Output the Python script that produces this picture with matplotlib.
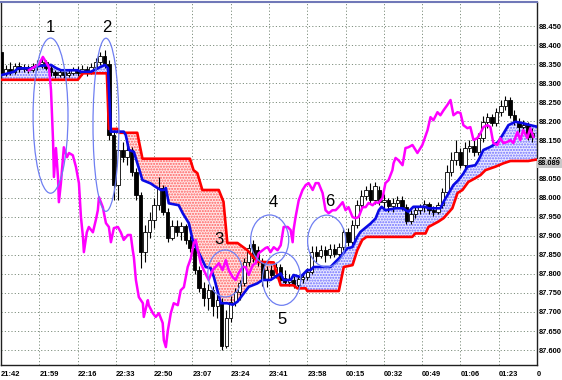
import numpy as np
import matplotlib
matplotlib.use("Agg")
import matplotlib.pyplot as plt
from matplotlib.patches import Ellipse

# time axis (minutes after 21:42)
tick_minutes = [0, 17, 34, 51, 68, 85, 102, 119, 136, 153, 170, 187, 204, 221, 238]
tick_labels = ["21:42", "21:59", "22:16", "22:33", "22:50", "23:07", "23:24", "23:41",
               "23:58", "00:15", "00:32", "00:49", "01:06", "01:23", "0"]
price_ticks = [87.60, 87.65, 87.70, 87.75, 87.80, 87.85, 87.90, 87.95, 88.00,
               88.05, 88.10, 88.15, 88.20, 88.25, 88.30, 88.35, 88.40, 88.45]
last_price = 88.089
bar_minutes = 2.0

# 2-minute candles
opens = [88.382, 88.327, 88.337, 88.329, 88.345, 88.337, 88.342, 88.334, 88.345, 88.350,
         88.355, 88.340, 88.329, 88.321, 88.329, 88.321, 88.327, 88.334, 88.327, 88.337,
         88.329, 88.342, 88.355, 88.371, 88.350, 88.164, 88.033, 88.125, 88.106, 88.125,
         88.067, 88.007, 87.857, 87.909, 87.941, 87.980, 88.025, 87.962, 87.894, 87.925,
         87.909, 87.925, 87.889, 87.868, 87.810, 87.763, 87.736, 87.757, 87.715, 87.726,
         87.610, 87.684, 87.726, 87.752, 87.776, 87.831, 87.878, 87.862, 87.831, 87.784,
         87.810, 87.797, 87.818, 87.789, 87.778, 87.784, 87.770, 87.786, 87.791, 87.805,
         87.857, 87.847, 87.862, 87.849, 87.865, 87.852, 87.870, 87.909, 87.883, 87.928,
         87.980, 88.004, 88.020, 87.993, 88.020, 87.988, 87.993, 87.978, 87.986, 87.993,
         87.975, 87.938, 87.957, 87.967, 87.975, 87.983, 87.967, 87.962, 87.980, 88.014,
         88.067, 88.098, 88.119, 88.085, 88.130, 88.135, 88.119, 88.156, 88.198, 88.211,
         88.195, 88.224, 88.240, 88.256, 88.216, 88.198, 88.185, 88.190, 88.159]
highs = [88.387, 88.348, 88.355, 88.353, 88.355, 88.350, 88.348, 88.353, 88.361, 88.369,
         88.361, 88.348, 88.334, 88.337, 88.334, 88.334, 88.342, 88.345, 88.348, 88.345,
         88.353, 88.366, 88.382, 88.387, 88.361, 88.177, 88.151, 88.146, 88.140, 88.132,
         88.077, 88.014, 87.928, 87.962, 87.999, 88.054, 88.033, 87.972, 87.941, 87.941,
         87.936, 87.930, 87.899, 87.878, 87.820, 87.778, 87.773, 87.768, 87.747, 87.736,
         87.705, 87.742, 87.763, 87.784, 87.841, 87.878, 87.889, 87.873, 87.841, 87.820,
         87.823, 87.828, 87.826, 87.810, 87.799, 87.794, 87.794, 87.802, 87.815, 87.873,
         87.873, 87.875, 87.873, 87.878, 87.878, 87.881, 87.920, 87.920, 87.941, 87.993,
         88.020, 88.030, 88.038, 88.041, 88.030, 88.009, 87.999, 87.999, 88.004, 88.004,
         87.983, 87.967, 87.978, 87.983, 87.993, 87.988, 87.978, 87.988, 88.025, 88.085,
         88.119, 88.151, 88.130, 88.146, 88.151, 88.151, 88.169, 88.214, 88.222, 88.219,
         88.235, 88.256, 88.266, 88.264, 88.230, 88.209, 88.203, 88.198, 88.182]
lows = [88.313, 88.319, 88.321, 88.324, 88.329, 88.329, 88.327, 88.329, 88.334, 88.340,
        88.334, 88.319, 88.313, 88.316, 88.313, 88.316, 88.321, 88.319, 88.321, 88.319,
        88.324, 88.334, 88.348, 88.340, 88.151, 87.993, 87.993, 88.093, 88.085, 88.056,
        87.993, 87.815, 87.831, 87.894, 87.920, 87.967, 87.954, 87.883, 87.889, 87.899,
        87.889, 87.878, 87.857, 87.799, 87.752, 87.715, 87.705, 87.689, 87.684, 87.600,
        87.605, 87.673, 87.715, 87.731, 87.768, 87.820, 87.831, 87.820, 87.768, 87.765,
        87.786, 87.789, 87.773, 87.770, 87.768, 87.763, 87.765, 87.776, 87.784, 87.799,
        87.831, 87.841, 87.831, 87.841, 87.844, 87.841, 87.862, 87.873, 87.873, 87.920,
        87.967, 87.993, 87.986, 87.983, 87.980, 87.967, 87.962, 87.962, 87.972, 87.967,
        87.930, 87.930, 87.946, 87.957, 87.962, 87.957, 87.951, 87.957, 87.972, 88.007,
        88.056, 88.085, 88.077, 88.077, 88.119, 88.109, 88.111, 88.146, 88.182, 88.188,
        88.188, 88.214, 88.230, 88.209, 88.190, 88.172, 88.172, 88.151, 88.146]
closes = [88.327, 88.337, 88.329, 88.345, 88.337, 88.342, 88.334, 88.345, 88.350, 88.355,
          88.340, 88.329, 88.321, 88.329, 88.321, 88.327, 88.334, 88.327, 88.337, 88.329,
          88.342, 88.355, 88.371, 88.350, 88.164, 88.033, 88.125, 88.106, 88.125, 88.067,
          88.007, 87.857, 87.909, 87.941, 87.980, 88.025, 87.962, 87.894, 87.925, 87.909,
          87.925, 87.889, 87.868, 87.810, 87.763, 87.736, 87.757, 87.715, 87.731, 87.610,
          87.684, 87.726, 87.752, 87.776, 87.831, 87.868, 87.841, 87.831, 87.784, 87.810,
          87.797, 87.818, 87.784, 87.778, 87.784, 87.770, 87.786, 87.791, 87.805, 87.857,
          87.847, 87.862, 87.849, 87.865, 87.852, 87.870, 87.909, 87.883, 87.928, 87.980,
          88.004, 88.020, 87.993, 88.030, 87.988, 87.993, 87.978, 87.986, 87.993, 87.975,
          87.938, 87.957, 87.967, 87.975, 87.983, 87.967, 87.962, 87.980, 88.014, 88.067,
          88.098, 88.119, 88.085, 88.130, 88.135, 88.119, 88.156, 88.198, 88.211, 88.195,
          88.224, 88.240, 88.256, 88.216, 88.198, 88.185, 88.190, 88.159, 88.169]

# red line (span B)
red_t = [0, 34.1, 36.4, 47.0, 47.9, 51.9, 52.3, 60.5, 62.8, 83.9,
         85.5, 87.2, 89.4, 96.7, 98.8, 100.5, 105.0, 106.4, 109.4, 113.8,
         121.1, 122.0, 124.2, 129.9, 131.6, 135.3, 136.0, 150.0, 152.2, 156.1,
         158.2, 160.4, 162.3, 182.6, 184.0, 188.5, 189.8, 194.2, 196.5, 200.4,
         202.7, 204.9, 207.5, 210.6, 212.9, 215.1, 219.5, 223.1, 226.2, 234.1, 238.0]
red_v = [88.309, 88.309, 88.326, 88.326, 88.180, 88.180, 88.170, 88.170, 88.102, 88.102,
         88.072, 88.064, 88.020, 88.020, 87.989, 87.881, 87.881, 87.875, 87.862, 87.832,
         87.830, 87.810, 87.770, 87.770, 87.762, 87.762, 87.755, 87.755, 87.818, 87.823,
         87.862, 87.889, 87.897, 87.897, 87.906, 87.906, 87.923, 87.937, 87.946, 87.972,
         88.012, 88.020, 88.041, 88.051, 88.059, 88.072, 88.081, 88.090, 88.096, 88.096, 88.100]

# blue line (span A)
blue_t = [0, 5.8, 7.5, 13.3, 16.4, 22.2, 24.4, 26.6, 34.1, 35.5,
          39.9, 41.2, 44.3, 46.1, 47.5, 48.8, 54.5, 55.4, 56.8, 59.0,
          62.8, 66.5, 68.7, 71.0, 72.3, 73.2, 74.5, 78.9, 80.7, 83.4,
          85.1, 86.5, 88.7, 90.9, 93.1, 94.5, 97.6, 100.5, 102.9, 105.0,
          107.8, 110.0, 113.8, 116.1, 119.7, 124.2, 125.5, 128.6, 129.9, 133.0,
          136.0, 137.5, 138.8, 146.3, 148.6, 150.8, 153.7, 156.0, 158.2, 159.6,
          164.1, 166.3, 167.8, 169.0, 170.7, 175.2, 178.3, 180.9, 183.1, 188.5,
          189.8, 195.1, 196.5, 198.7, 200.9, 203.1, 205.3, 207.1, 210.6, 212.0,
          214.2, 217.3, 220.8, 223.1, 225.3, 228.4, 231.9, 235.0, 238.0]
blue_v = [88.321, 88.330, 88.339, 88.339, 88.345, 88.348, 88.340, 88.334, 88.334, 88.330,
          88.330, 88.334, 88.343, 88.348, 88.340, 88.173, 88.173, 88.164, 88.125, 88.120,
          88.046, 88.037, 88.028, 88.020, 88.020, 88.025, 87.985, 87.980, 87.959, 87.933,
          87.889, 87.871, 87.845, 87.818, 87.815, 87.792, 87.723, 87.723, 87.719, 87.727,
          87.749, 87.766, 87.775, 87.784, 87.784, 87.801, 87.784, 87.784, 87.797, 87.792,
          87.810, 87.810, 87.818, 87.818, 87.832, 87.845, 87.867, 87.870, 87.897, 87.910,
          87.932, 87.945, 87.967, 87.976, 87.967, 87.972, 87.972, 87.963, 87.976, 87.976,
          87.972, 87.972, 87.989, 88.011, 88.033, 88.046, 88.063, 88.081, 88.085, 88.098,
          88.125, 88.133, 88.146, 88.168, 88.190, 88.199, 88.195, 88.190, 88.186]

# magenta line
mag_t = [12.4, 14.6, 16.9, 18.6, 20.0, 21.3, 22.2, 23.1, 23.5, 24.4,
         25.3, 25.7, 26.6, 27.9, 29.3, 30.2, 31.9, 33.3, 34.6, 35.5,
         36.4, 36.8, 38.1, 39.0, 40.8, 42.1, 43.0, 43.5, 45.2, 46.6,
         47.9, 48.8, 50.1, 51.9, 53.2, 54.5, 56.3, 57.6, 58.5, 59.0,
         59.9, 61.2, 63.0, 63.4, 65.2, 65.6, 67.4, 68.7, 70.1, 71.8,
         72.3, 73.2, 74.1, 75.4, 76.7, 78.5, 79.8, 81.2, 82.9, 84.3,
         85.6, 86.5, 87.4, 88.7, 90.0, 92.2, 94.0, 95.3, 96.7, 98.4,
         99.8, 101.1, 102.9, 104.2, 105.5, 107.3, 108.6, 110.0, 111.8, 113.1,
         114.4, 116.2, 117.5, 118.4, 119.7, 121.1, 122.8, 124.2, 125.5, 127.3,
         128.6, 129.5, 129.9, 130.8, 132.2, 133.9, 135.3, 136.6, 138.4, 139.7,
         141.0, 142.8, 144.1, 145.5, 147.2, 148.6, 149.9, 151.7, 153.0, 154.3,
         156.1, 157.4, 158.8, 160.5, 161.9, 163.2, 165.0, 166.3, 167.6, 169.4,
         170.7, 172.1, 173.8, 174.3, 175.2, 176.5, 178.3, 179.6, 180.9, 182.7,
         184.9, 187.1, 189.4, 190.7, 192.0, 193.8, 195.1, 196.5, 198.2, 199.6,
         200.9, 202.7, 204.0, 205.3, 207.1, 208.4, 209.8, 211.5, 212.9, 214.2,
         216.0, 217.3, 218.6, 220.4, 221.7, 223.1, 224.8, 226.2, 227.5, 229.3,
         230.6, 231.9, 233.7, 235.0, 236.4]
mag_v = [88.334, 88.342, 88.350, 88.369, 88.355, 88.342, 88.282, 88.151, 88.054, 88.130,
         88.054, 87.988, 88.038, 88.132, 88.106, 88.117, 88.111, 88.080, 88.038, 87.949,
         87.896, 87.857, 87.909, 87.923, 87.909, 87.941, 87.967, 88.001, 87.975, 87.933,
         87.923, 87.883, 87.920, 87.923, 87.909, 87.889, 87.902, 87.902, 87.862, 87.844,
         87.784, 87.739, 87.723, 87.687, 87.731, 87.718, 87.697, 87.687, 87.697, 87.671,
         87.626, 87.608, 87.652, 87.697, 87.723, 87.718, 87.757, 87.765, 87.818, 87.841,
         87.881, 87.889, 87.862, 87.828, 87.810, 87.784, 87.810, 87.818, 87.828, 87.810,
         87.836, 87.810, 87.791, 87.784, 87.802, 87.818, 87.818, 87.797, 87.823, 87.828,
         87.854, 87.862, 87.868, 87.870, 87.857, 87.870, 87.862, 87.875, 87.923, 87.923,
         87.915, 87.883, 87.915, 87.949, 87.993, 88.020, 88.033, 88.038, 88.020, 88.038,
         88.038, 88.012, 87.967, 87.959, 87.967, 87.967, 87.975, 87.988, 87.967, 87.975,
         87.949, 87.946, 87.949, 87.975, 87.975, 87.986, 87.980, 87.988, 87.986, 87.999,
         88.038, 88.046, 88.072, 88.090, 88.104, 88.098, 88.085, 88.130, 88.132, 88.138,
         88.117, 88.138, 88.177, 88.211, 88.203, 88.224, 88.216, 88.229, 88.243, 88.256,
         88.216, 88.224, 88.222, 88.190, 88.182, 88.185, 88.151, 88.156, 88.169, 88.185,
         88.190, 88.185, 88.143, 88.138, 88.156, 88.143, 88.146, 88.151, 88.143, 88.172,
         88.151, 88.177, 88.156, 88.182, 88.159]

# numbered marks: (label, centre minute, centre price, width min, height price, label minute, label price)
marks = [("1", 22.0, 88.215, 15.5, 0.407, 22.0, 88.447),
         ("2", 46.6, 88.191, 11.5, 0.454, 47.0, 88.447),
         ("3", 99.6, 87.801, 15.5, 0.123, 96.9, 87.891),
         ("4", 119.3, 87.889, 16.9, 0.131, 120.8, 87.986),
         ("5", 124.6, 87.787, 16.9, 0.139, 124.6, 87.681),
         ("6", 144.6, 87.886, 16.9, 0.136, 145.9, 87.991)]

small_font = "Liberation Sans"
small_size = 5.4

fig = plt.figure(figsize=(5.62, 3.80), dpi=100)
ax = fig.add_axes([1 / 562, 15 / 380, 536 / 562, 363 / 380])
ax.set_xlim(0, 238)
ax.set_ylim(87.561, 88.513)

# grid
for p in price_ticks:
    ax.axhline(p, color="#7f8f7f", lw=0.7, ls=(0, (1.2, 2.2)), zorder=0)
for m in tick_minutes:
    ax.axvline(m, color="#7f8f7f", lw=0.7, ls=(0, (1.2, 2.2)), zorder=0)

# cloud between the two spans
tt = np.linspace(0, 238, 3000)
rb = np.interp(tt, red_t, red_v)
bb = np.interp(tt, blue_t, blue_v)
plt.rcParams["hatch.linewidth"] = 1.0
ax.fill_between(tt, rb, bb, where=rb >= bb, interpolate=True, facecolor="#ffe4e4",
                hatch="......", edgecolor="#ff6060", linewidth=0, zorder=1)
ax.fill_between(tt, rb, bb, where=bb > rb, interpolate=True, facecolor="#e8e8ff",
                hatch="......", edgecolor="#7070ff", linewidth=0, zorder=1)

# candles
t_c = np.arange(len(opens)) * bar_minutes
o = np.array(opens)
c = np.array(closes)
ax.vlines(t_c, lows, highs, color="black", lw=0.8, zorder=2)
up = c >= o
body = np.where(np.abs(c - o) < 0.002, 0.002, c - o)
ax.bar(t_c[up], body[up], bottom=o[up], width=1.5, color="white",
       edgecolor="black", linewidth=0.6, zorder=3)
ax.bar(t_c[~up], body[~up], bottom=o[~up], width=1.5, color="black",
       edgecolor="black", linewidth=0.6, zorder=3)

# lines
ax.plot(red_t, red_v, color="#ff0000", lw=1.9, zorder=4)
ax.plot(blue_t, blue_v, color="#0a0ae6", lw=1.9, zorder=5)
ax.plot(mag_t, mag_v, color="#ff00ff", lw=1.8, zorder=6)

# ellipses and numbers
for lab, cx, cy, w, h, lx, ly in marks:
    ax.add_patch(Ellipse((cx, cy), w, h, fill=False, edgecolor="#6f7ff2", lw=0.9, zorder=7))
    ax.text(lx, ly, lab, fontsize=12, family="Liberation Sans", ha="center", va="center", zorder=8)

# axes
ax.yaxis.tick_right()
ax.set_yticks(price_ticks)
ax.set_yticklabels(["%.3f" % p for p in price_ticks], family=small_font,
                   fontsize=small_size, fontweight="bold")
ax.set_xticks(tick_minutes)
ax.set_xticklabels(tick_labels, family=small_font, fontsize=small_size,
                   fontweight="bold", ha="left")
ax.tick_params(axis="y", length=0, pad=1.0)
ax.tick_params(axis="x", length=0, pad=4.5)
ax.text(1.002, last_price, "%.3f" % last_price, transform=ax.get_yaxis_transform(),
        family=small_font, fontsize=small_size, fontweight="bold", va="center", ha="left",
        bbox=dict(boxstyle="square,pad=0.12", facecolor="#c8c8c8", edgecolor="none"),
        clip_on=False, zorder=10)

for s in ["left", "bottom", "right"]:
    ax.spines[s].set_color("#202020")
    ax.spines[s].set_linewidth(1.0)
ax.spines["top"].set_color("#7078b8")
ax.spines["top"].set_linewidth(1.5)

fig.savefig("out.png", dpi=100)
